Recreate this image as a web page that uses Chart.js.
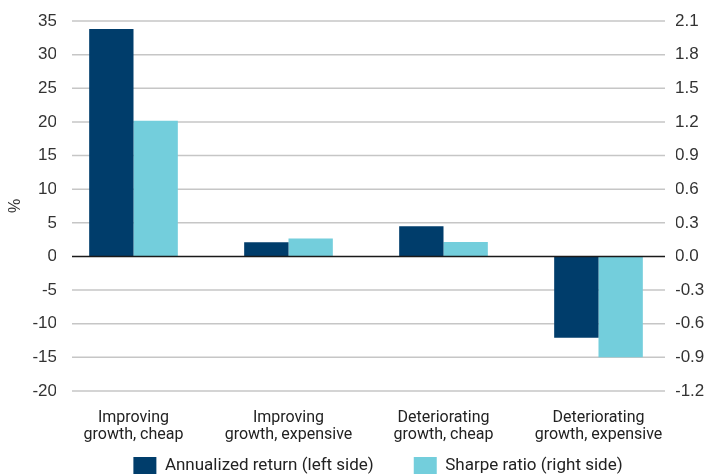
<!DOCTYPE html>
<html>
<head>
<meta charset="utf-8">
<script src="https://cdn.jsdelivr.net/npm/chart.js@4.4.1/dist/chart.umd.min.js"></script>
<style>
  html, body { margin: 0; padding: 0; background: #fff; }
  #wrap { width: 704px; height: 476px; }
</style>
</head>
<body>
<div id="wrap"><canvas id="chart" width="704" height="476"></canvas></div>
<script>
const categories = [
    ['Improving', 'growth, cheap'],
    ['Improving', 'growth, expensive'],
    ['Deteriorating', 'growth, cheap'],
    ['Deteriorating', 'growth, expensive']
];
const annualizedReturn = [33.8, 2.1, 4.5, -12.1];
const sharpeRatio = [1.21, 0.16, 0.13, -0.90];
const leftTicks = [-20, -15, -10, -5, 0, 5, 10, 15, 20, 25, 30, 35];
const rightTicks = [-1.2, -0.9, -0.6, -0.3, 0, 0.3, 0.6, 0.9, 1.2, 1.5, 1.8, 2.1];

const narrow = "Roboto, 'Liberation Sans', sans-serif";
const plain = "'Liberation Sans', Arial, sans-serif";

// gridlines in the reference do not span the whole plot width
const gridPlugin = {
    id: 'refGrid',
    beforeDatasetsDraw(chart) {
        const {ctx, chartArea, scales: {y}} = chart;
        ctx.save();
        ctx.lineWidth = 1.5;
        ctx.strokeStyle = '#c6c6c6';
        y.ticks.forEach(t => {
            if (t.value === 0) return;
            const py = y.getPixelForValue(t.value);
            ctx.beginPath();
            ctx.moveTo(chartArea.left + 16, py);
            ctx.lineTo(chartArea.right - 11, py);
            ctx.stroke();
        });
        ctx.restore();
    },
    afterDatasetsDraw(chart) {
        const {ctx, chartArea, scales: {y}} = chart;
        const py = y.getPixelForValue(0);
        ctx.save();
        ctx.lineWidth = 1.5;
        ctx.strokeStyle = '#1a1a1a';
        ctx.beginPath();
        ctx.moveTo(chartArea.left + 16, py);
        ctx.lineTo(chartArea.right - 11, py);
        ctx.stroke();
        ctx.restore();
    },
    afterLayout(chart) {
        // wide gap between legend items without a tall legend box
        const lg = chart.legend;
        lg.top = chart.height - 19 - lg.options.labels.padding;
        lg.left += 26;
        lg.right += 26;
    }
};

const data = {
    labels: categories,
    datasets: [{
        label: 'Annualized return (left side)',
        data: annualizedReturn,
        backgroundColor: '#003d6b',
        yAxisID: 'y'
    }, {
        label: 'Sharpe ratio (right side)',
        data: sharpeRatio,
        backgroundColor: '#73cedc',
        yAxisID: 'y1'
    }]
};

const config = {
    type: 'bar',
    data: data,
    options: {
        responsive: false,
        animation: false,
        events: [],
        layout: { padding: { top: 21, left: 0, right: 0, bottom: 0 } },
        datasets: {
            bar: { categoryPercentage: 0.572, barPercentage: 1.0, borderWidth: 0 }
        },
        scales: {
            x: {
                grid: { display: false },
                border: { display: false },
                ticks: {
                    color: '#222',
                    padding: 11,
                    maxRotation: 0,
                    autoSkip: false,
                    font: { family: narrow, size: 16, lineHeight: 1.05 }
                },
                afterFit(scale) { scale.height = 55; }
            },
            y: {
                position: 'left',
                min: -20,
                max: 35,
                afterBuildTicks(scale) { scale.ticks = leftTicks.map(v => ({value: v})); },
                grid: { display: false },
                border: { display: false },
                ticks: {
                    color: '#333',
                    padding: -9,
                    font: { family: plain, size: 17 }
                },
                title: {
                    display: true,
                    text: '%',
                    color: '#333',
                    padding: { top: 6, bottom: 0 },
                    font: { family: plain, size: 16 }
                },
                afterFit(scale) { scale.width = 56; }
            },
            y1: {
                position: 'right',
                min: -1.2,
                max: 2.1,
                afterBuildTicks(scale) { scale.ticks = rightTicks.map(v => ({value: v})); },
                grid: { display: false },
                border: { display: false },
                ticks: {
                    color: '#333',
                    padding: -9,
                    font: { family: plain, size: 17 },
                    callback: (v) => (Math.abs(v) < 1e-9 ? 0 : v).toFixed(1)
                },
                afterFit(scale) { scale.width = 28; }
            }
        },
        plugins: {
            legend: {
                display: true,
                position: 'bottom',
                maxHeight: 30,
                labels: {
                    boxWidth: 23,
                    boxHeight: 17,
                    padding: 40,
                    color: '#222',
                    font: { family: narrow, size: 17 }
                }
            },
            tooltip: { enabled: false },
            title: { display: false }
        }
    },
    plugins: [gridPlugin]
};

var chart = new Chart(
    document.getElementById('chart'),
    config
);
</script>
</body>
</html>
